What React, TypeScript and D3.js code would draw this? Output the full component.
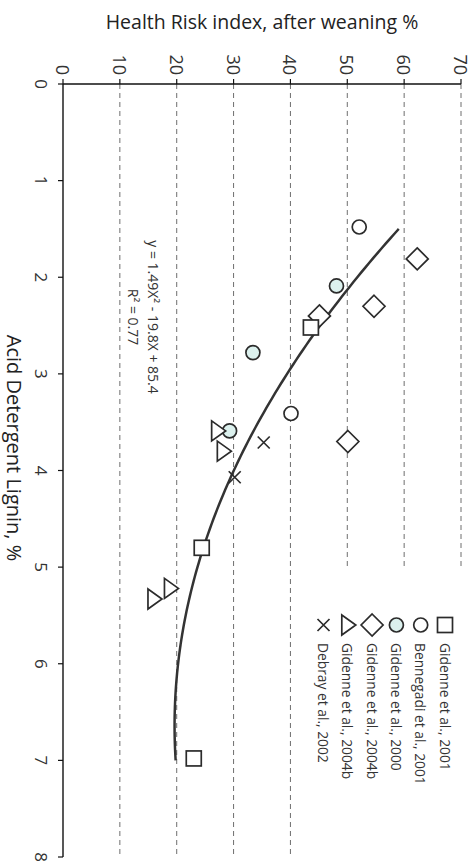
import React from "react";
import * as d3 from "d3";

const hriTicks = [0, 10, 20, 30, 40, 50, 60, 70];
const adlTicks = [0, 1, 2, 3, 4, 5, 6, 7, 8];

const gid2001Adl = [2.52, 4.8, 6.98];
const gid2001Hri = [43.6, 24.4, 23.0];
const benAdl = [1.48, 3.41];
const benHri = [52.1, 40.1];
const gid2000Adl = [2.09, 2.78, 3.59];
const gid2000Hri = [48.1, 33.4, 29.3];
const diaAdl = [1.81, 2.3, 2.4, 3.7];
const diaHri = [62.3, 54.7, 45.1, 50.1];
const triAdl = [3.59, 3.8, 5.22, 5.33];
const triHri = [27.2, 28.2, 18.9, 16.0];
const debAdl = [3.71, 4.07];
const debHri = [35.3, 30.2];

const fitCoef = [1.49, -19.8, 85.4];
const fitRange = [1.5, 7];

const legendLabels = [
  "Gidenne et al., 2001",
  "Bennegadi et al., 2001",
  "Gidenne et al., 2000",
  "Gidenne et al., 2004b",
  "Gidenne et al., 2004b",
  "Debray et al., 2002",
];
const legendKinds = ["square", "circle", "circleBlue", "diamond", "triangle", "cross"];

const FONT = "'Open Sans', 'Noto Sans', sans-serif";
const INK = "#2b2b2b";
const BLUE = "#dcf1ee";

function Marker({ kind, x, y }: { kind: string; x: number; y: number }) {
  const common = { stroke: INK, strokeWidth: 1.7 };
  if (kind === "square")
    return <rect x={x - 7.5} y={y - 7.5} width={15} height={15} fill="white" {...common} />;
  if (kind === "circle") return <circle cx={x} cy={y} r={7} fill="white" {...common} />;
  if (kind === "circleBlue") return <circle cx={x} cy={y} r={7} fill={BLUE} {...common} />;
  if (kind === "diamond")
    return (
      <path
        d={`M${x},${y - 11}L${x + 11},${y}L${x},${y + 11}L${x - 11},${y}Z`}
        fill="white"
        {...common}
      />
    );
  if (kind === "triangle")
    return (
      <path
        d={`M${x - 6},${y - 10}L${x + 8},${y}L${x - 6},${y + 10}Z`}
        fill="white"
        {...common}
      />
    );
  return (
    <path
      d={`M${x - 6},${y - 6}L${x + 6},${y + 6}M${x - 6},${y + 6}L${x + 6},${y - 6}`}
      fill="none"
      {...common}
    />
  );
}

export default function App() {
  const W = 473;
  const H = 863;
  const x = d3.scaleLinear().domain([0, 70]).range([63, 461]);
  const y = d3.scaleLinear().domain([0, 8]).range([84, 857]);

  const fit = (v: number) => fitCoef[0] * v * v + fitCoef[1] * v + fitCoef[2];
  const fitPts = d3.range(fitRange[0], fitRange[1] + 0.001, 0.05).map((v) => [v, fit(v)]);
  const line = d3
    .line<number[]>()
    .x((d) => x(d[1]))
    .y((d) => y(d[0]))
    .curve(d3.curveBasis);

  const series: { kind: string; adl: number[]; hri: number[] }[] = [
    { kind: "circle", adl: benAdl, hri: benHri },
    { kind: "circleBlue", adl: gid2000Adl, hri: gid2000Hri },
    { kind: "diamond", adl: diaAdl, hri: diaHri },
    { kind: "triangle", adl: triAdl, hri: triHri },
    { kind: "cross", adl: debAdl, hri: debHri },
    { kind: "square", adl: gid2001Adl, hri: gid2001Hri },
  ];

  const legendX0 = 445;
  const legendStep = 24.3;
  const legendSymY = 625;
  const legendTextY = 643;

  return (
    <svg
      width={W}
      height={H}
      style={{ position: "absolute", left: 0, top: 0, background: "white" }}
      fontFamily={FONT}
    >
      <rect x={0} y={0} width={W} height={H} fill="white" />
      {/* gridlines */}
      {hriTicks.slice(1).map((t) => (
        <line
          key={"g" + t}
          x1={x(t)}
          x2={x(t)}
          y1={y(0)}
          y2={t >= 50 ? 567 : y(8)}
          stroke="#6e6e6e"
          strokeWidth={1}
          strokeDasharray="5,4"
        />
      ))}
      {/* axes */}
      <line x1={x(0)} x2={x(70)} y1={y(0)} y2={y(0)} stroke="#111" strokeWidth={1.4} />
      <line x1={x(0)} x2={x(0)} y1={y(0)} y2={y(8)} stroke="#111" strokeWidth={1.4} />
      {hriTicks.map((t) => (
        <g key={"ht" + t}>
          <line x1={x(t)} x2={x(t)} y1={y(0)} y2={y(0) - 5} stroke="#111" strokeWidth={1.2} />
          <text
            transform={`translate(${x(t)},75) rotate(90)`}
            textAnchor="end"
            dominantBaseline="central"
            fontSize={18}
            fill="#333"
          >
            {t}
          </text>
        </g>
      ))}
      {adlTicks.map((t) => (
        <g key={"at" + t}>
          <line x1={x(0) - 5} x2={x(0)} y1={y(t)} y2={y(t)} stroke="#111" strokeWidth={1.2} />
          <text
            transform={`translate(41,${y(t)}) rotate(90)`}
            textAnchor="middle"
            dominantBaseline="central"
            fontSize={17}
            fill="#333"
          >
            {t}
          </text>
        </g>
      ))}
      {/* titles */}
      <text x={262} y={29} textAnchor="middle" fontSize={19.5} fill="#222">
        Health Risk index, after weaning %
      </text>
      <text
        transform={`translate(14,448) rotate(90)`}
        textAnchor="middle"
        dominantBaseline="central"
        fontSize={20}
        fill="#222"
      >
        Acid Detergent Lignin, %
      </text>
      {/* equation */}
      <text
        transform={`translate(153,317) rotate(90)`}
        textAnchor="middle"
        dominantBaseline="central"
        fontSize={14}
        fill="#333"
      >
        y = 1.49X² - 19.8X + 85.4
      </text>
      <text
        transform={`translate(133,317) rotate(90)`}
        textAnchor="middle"
        dominantBaseline="central"
        fontSize={14}
        fill="#333"
      >
        R² = 0.77
      </text>
      {/* fit curve */}
      <path d={line(fitPts as any) || ""} fill="none" stroke="#333" strokeWidth={2.5} />
      {/* points */}
      {series.map((s) =>
        s.adl.map((a, i) => <Marker key={s.kind + i} kind={s.kind} x={x(s.hri[i])} y={y(a)} />)
      )}
      {/* legend */}
      {legendLabels.map((lab, i) => {
        const lx = legendX0 - i * legendStep;
        return (
          <g key={"lg" + i}>
            <Marker kind={legendKinds[i]} x={lx} y={legendSymY} />
            <text
              transform={`translate(${lx},${legendTextY}) rotate(90)`}
              textAnchor="start"
              dominantBaseline="central"
              fontSize={13.8}
              fill="#333"
            >
              {lab}
            </text>
          </g>
        );
      })}
    </svg>
  );
}
